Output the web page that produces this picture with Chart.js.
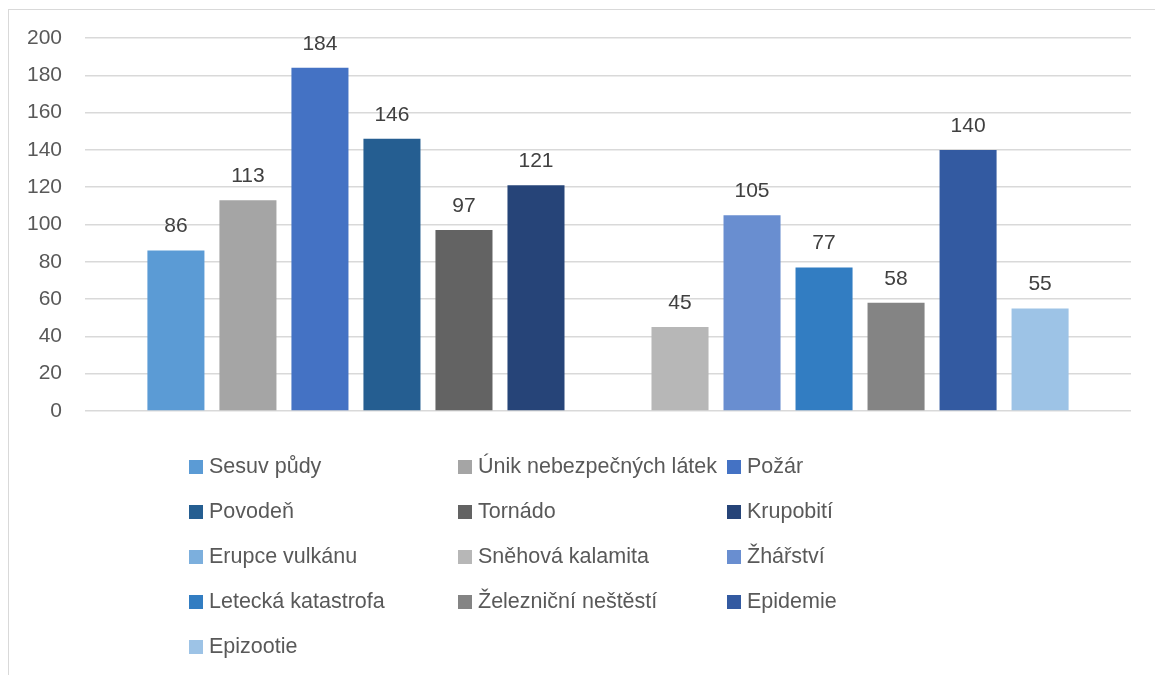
<!DOCTYPE html>
<html>
<head>
<meta charset="utf-8">
<script src="https://cdn.jsdelivr.net/npm/chart.js@4/dist/chart.umd.min.js"></script>
<style>
  html, body { margin: 0; padding: 0; background: #fff; overflow: hidden; }
  #wrap { position: relative; width: 1155px; height: 675px; overflow: hidden; }
  #frame { position: absolute; left: 8px; top: 9px; width: 1300px; height: 800px; border: 1px solid #d9d9d9; box-sizing: border-box; }
  canvas { position: absolute; left: 0; top: 0; }
  #legend { position: absolute; left: 189px; top: 444px; display: grid; grid-template-columns: 269px 269px 269px; grid-auto-rows: 45px;
            font-family: "Liberation Sans", Arial, sans-serif; font-size: 21.5px; color: #595959; }
  .item { display: flex; align-items: center; white-space: nowrap; }
  .box { width: 14px; height: 14px; margin-right: 6px; flex: none; }
</style>
</head>
<body>
<div id="wrap">
  <div id="frame"></div>
  <canvas id="c" width="1155" height="675"></canvas>
  <div id="legend"></div>
</div>
<script>
const categories = [''];
const seriesNames = ['Sesuv půdy', 'Únik nebezpečných látek', 'Požár', 'Povodeň', 'Tornádo', 'Krupobití',
  'Erupce vulkánu', 'Sněhová kalamita', 'Žhářství', 'Letecká katastrofa', 'Železniční neštěstí', 'Epidemie', 'Epizootie'];
const seriesValues = [86, 113, 184, 146, 97, 121, null, 45, 105, 77, 58, 140, 55];
const seriesColors = ['#5B9BD5', '#A5A5A5', '#4472C4', '#255E91', '#636363', '#264478',
  '#7CAFDD', '#B7B7B7', '#698ED0', '#327DC2', '#848484', '#335AA1', '#9DC3E6'];
const yMin = 0, yMax = 200, yStep = 20;

const FONT = '"Liberation Sans", Arial, sans-serif';

const dataLabels = {
  id: 'dataLabels',
  afterDatasetsDraw(chart) {
    const ctx = chart.ctx;
    ctx.save();
    ctx.font = '21px ' + FONT;
    ctx.fillStyle = '#404040';
    ctx.textAlign = 'center';
    ctx.textBaseline = 'middle';
    chart.data.datasets.forEach((ds, i) => {
      const meta = chart.getDatasetMeta(i);
      meta.data.forEach((el, j) => {
        const v = ds.data[j];
        if (v === null || v === undefined) return;
        ctx.fillText(String(v), el.x, el.y - 24);
      });
    });
    ctx.restore();
  }
};

const chart = new Chart(document.getElementById('c'), {
  type: 'bar',
  data: {
    labels: categories,
    datasets: seriesNames.map((n, i) => ({
      label: n,
      data: [seriesValues[i]],
      backgroundColor: seriesColors[i],
      borderWidth: 0,
      categoryPercentage: 0.895,
      barPercentage: 0.792
    }))
  },
  options: {
    responsive: false,
    animation: false,
    devicePixelRatio: 1,
    layout: { padding: { left: 0, right: 24, top: 38, bottom: 264 } },
    plugins: { legend: { display: false }, tooltip: { enabled: false } },
    scales: {
      x: { display: false },
      y: {
        min: yMin, max: yMax,
        ticks: { stepSize: yStep, padding: 23, color: '#595959', font: { family: FONT, size: 21 } },
        grid: { color: '#d9d9d9', lineWidth: 1.5, drawTicks: false },
        border: { display: false },
        afterFit(scale) { scale.width = 85; }
      }
    }
  },
  plugins: [dataLabels]
});

const legend = document.getElementById('legend');
chart.data.datasets.forEach(ds => {
  const it = document.createElement('div');
  it.className = 'item';
  const b = document.createElement('span');
  b.className = 'box';
  b.style.background = ds.backgroundColor;
  const t = document.createElement('span');
  t.textContent = ds.label;
  it.appendChild(b); it.appendChild(t);
  legend.appendChild(it);
});
</script>
</body>
</html>
